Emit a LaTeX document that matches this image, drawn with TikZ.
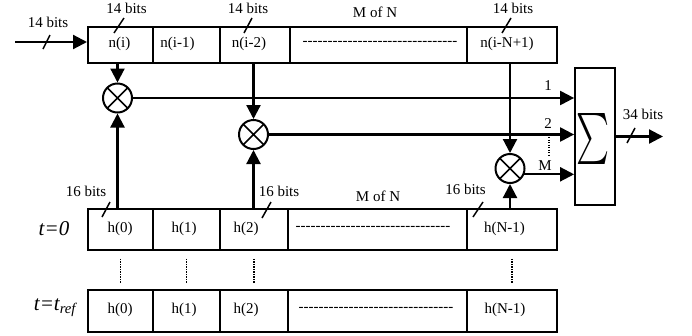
\documentclass[tikz,border=0pt]{standalone}
\usepackage{fontspec}
\setmainfont{Liberation Serif}
\usepackage{graphicx}
\usetikzlibrary{arrows.meta}
\newcommand\hyrun[1]{\foreach \k in {1,...,#1}{\mbox{-}}}
\begin{document}
\begin{tikzpicture}[x=1pt,y=-1pt,
  every node/.style={font=\fontsize{15}{18}\selectfont, inner sep=0pt},
  cellbox/.style={draw, line width=1.8pt, anchor=north west},
  toprow/.style={cellbox, minimum height=36pt},
  hrow/.style={cellbox, minimum height=41pt},
  rrow/.style={cellbox, minimum height=42pt},
  mult/.style={circle, draw, line width=2pt, minimum size=29pt,
    path picture={\draw[line width=1.6pt]
      (path picture bounding box.north west) -- (path picture bounding box.south east)
      (path picture bounding box.north east) -- (path picture bounding box.south west);}},
  conn/.style={line width=2.2pt, -{Triangle[length=14pt,width=14pt]}},
  slash/.style={line width=1.5pt},
  dotline/.style={line width=1.4pt, dash pattern=on 1.2pt off 1.3pt},
  tlab/.style={font=\fontsize{21}{24}\selectfont\itshape}
]
\useasboundingbox (0,0) rectangle (692,335);

% top register
\node[toprow, minimum width=65pt]  (c1) at (87,26)  {};
\node[toprow, minimum width=67pt]  (c2) at (152,26) {};
\node[toprow, minimum width=70pt]  (c3) at (219,26) {};
\node[toprow, minimum width=177pt] (c4) at (289,26) {};
\node[toprow, minimum width=90pt]  (c5) at (466,26) {};
\node (tn1) at (119.5,44) {n(i)};
\node (tn2) at (177.5,44) {n(i-1)};
\node (tn3) at (249,44)   {n(i-2)};
\node (tn4) at (380,43)   {\hyrun{31}};
\node (tn5) at (507,44)   {n(i-N+1)};

% coefficient register t=0
\node[hrow, minimum width=65pt]  (h1) at (87,208)  {};
\node[hrow, minimum width=67pt]  (h2) at (152,208) {};
\node[hrow, minimum width=68pt]  (h3) at (219,208) {};
\node[hrow, minimum width=179pt] (h4) at (287,208) {};
\node[hrow, minimum width=90pt]  (h5) at (466,208) {};
\node (th1) at (120,229)   {h(0)};
\node (th2) at (184,229)   {h(1)};
\node (th3) at (246,229)   {h(2)};
\node (th4) at (373,228)   {\hyrun{31}};
\node (th5) at (504.5,229) {h(N-1)};

% coefficient register t=t_ref
\node[rrow, minimum width=65pt]  (r1) at (87,289)  {};
\node[rrow, minimum width=67pt]  (r2) at (152,289) {};
\node[rrow, minimum width=68pt]  (r3) at (219,289) {};
\node[rrow, minimum width=179pt] (r4) at (287,289) {};
\node[rrow, minimum width=90pt]  (r5) at (466,289) {};
\node (tr1) at (120,310)   {h(0)};
\node (tr2) at (184,310)   {h(1)};
\node (tr3) at (246,310)   {h(2)};
\node (tr4) at (376,309)   {\hyrun{31}};
\node (tr5) at (505,310)   {h(N-1)};

% row labels
\node[tlab] (lt0) at (54,229) {t=0};
\node[tlab] (ltr) at (55,308) {t=t\textsubscript{ref}};

% multipliers
\node[mult] (m1) at (117.5,98)  {};
\node[mult] (m2) at (253.5,134.5) {};
\node[mult] (m3) at (510,168.5) {};

% summer
\node[draw, line width=1.8pt, minimum width=40pt, minimum height=137pt] (sig) at (595,136.5) {};
\node (sigsym) at (593,139) {\resizebox*{33pt}{51pt}{$\sum$}};

% data to multipliers
\draw[conn] (m1 |- c1.south) -- (m1.north);
\draw[conn] (m2 |- c3.south) -- (m2.north);
\draw[conn] (m3 |- c5.south) -- (m3.north);
% coefficients to multipliers
\draw[conn] (m1 |- h1.north) -- (m1.south);
\draw[conn] (m2 |- h3.north) -- (m2.south);
\draw[conn] (m3 |- h5.north) -- (m3.south);
% products to summer
\draw[conn] (m1.east) -- (m1.east -| sig.west);
\draw[conn] (m2.east) -- (m2.east -| sig.west);
\draw[conn] (m3.-22) -- (m3.-22 -| sig.west);
\node (l1) at (548,86)  {1};
\node (l2) at (548,124) {2};
\node (lM) at (545,166) {M};
\draw[dotline] (549,137) -- (549,155);

% input and output
\coordinate (in) at (15,42);
\draw[conn] (in) -- (in -| c1.west);
\coordinate (out) at (663,136.5);
\draw[conn] (sig.east) -- (out);

% bit width labels
\node (b0) at (48,22)    {14 bits};
\node (b1) at (126.5,8)  {14 bits};
\node (b2) at (248,8)    {14 bits};
\node (b3) at (513,8)    {14 bits};
\node (b4) at (643,114)  {34 bits};
\node (b5) at (86,191)   {16 bits};
\node (b6) at (279,191)  {16 bits};
\node (b7) at (465.5,189) {16 bits};
\node (mn1) at (375,12)  {M of N};
\node (mn2) at (378,196) {M of N};
\draw[slash] (43,49) -- (50,35);
\draw[slash] (114,33) -- (124,18);
\draw[slash] (244,33) -- (252,18);
\draw[slash] (502,33) -- (511,18);
\draw[slash] (627,143) -- (635,128);
\draw[slash] (102,217) -- (110,202);
\draw[slash] (262,218) -- (271,202);
\draw[slash] (473,217) -- (483,202);

% dotted continuation between registers
\draw[dotline, shorten <=8pt, shorten >=6pt] (h1.south) -- (r1.north);
\draw[dotline, shorten <=8pt, shorten >=6pt] (h2.south) -- (r2.north);
\draw[dotline, shorten <=8pt, shorten >=6pt] (h3.south) -- (r3.north);
\draw[dotline, shorten <=8pt, shorten >=6pt] (h5.south) -- (r5.north);
\end{tikzpicture}
\end{document}
